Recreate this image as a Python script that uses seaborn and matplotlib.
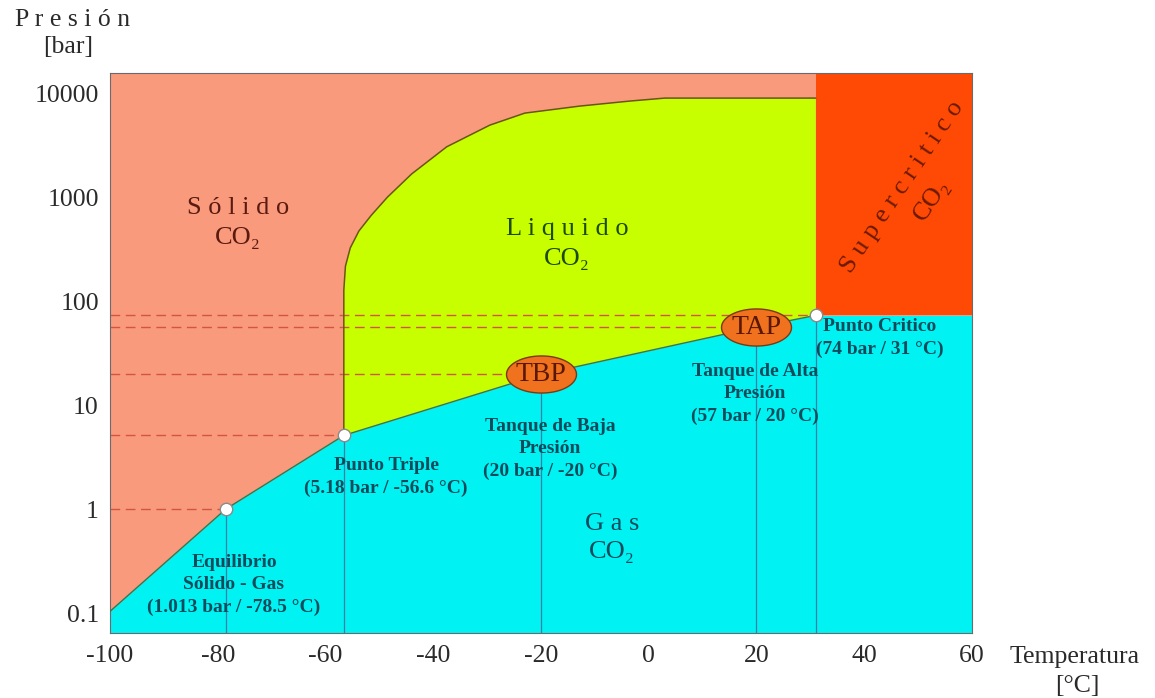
import numpy as np
import matplotlib
matplotlib.use("Agg")
import matplotlib.pyplot as plt
from matplotlib.path import Path
from matplotlib.markers import MarkerStyle
from matplotlib.ticker import FixedLocator, NullLocator, FixedFormatter
import seaborn as sns

# ---- axis ticks -------------------------------------------------------
temp_ticks = [-100, -80, -60, -40, -20, 0, 20, 40, 60]
pres_ticks = [0.1, 1, 10, 100, 1000, 10000]
pres_labels = ["0.1", "1", "10", "100", "1000", "10000"]

# ---- phase boundaries (°C, bar) --------------------------------------
# solid - gas (sublimation)
subl_t = [-100, -78.5, -56.6]
subl_p = [0.105, 1.013, 5.18]
# liquid - gas (vaporisation)
vap_t = [-56.6, -20, 20, 31]
vap_p = [5.18, 20, 57, 74]
# solid - liquid (melting)
melt_t = [-56.6, -56.6, -56.3, -55.4, -53.8, -51.5, -48.5, -44.0, -37.5,
          -29.5, -23.0, -12.8, -3.5, 3.0, 31]
melt_p = [5.18, 129, 220, 330, 480, 680, 1016, 1700, 3100,
          5010, 6540, 7640, 8540, 9120, 9120]

# ---- labelled states --------------------------------------------------
point_t = [-78.5, -56.6, 31]        # equilibrium, triple point, critical point
point_p = [1.013, 5.18, 74]
tank_names = ["TBP", "TAP"]
tank_t = [-20, 20]
tank_p = [20, 57]

t_min, t_max = -100, 60
p_min, p_max = 0.065, 15900

# ---- colours ----------------------------------------------------------
c_solid = "#FA9A7C"
c_liquid = "#C8FF00"
c_gas = "#00F2F2"
c_super = "#FF4A05"
c_note = "#0B4B5C"

sns.set_theme(style="white")
plt.rcParams["font.family"] = ["Liberation Serif", "DejaVu Serif"]

W, H = 1155, 698
fig = plt.figure(figsize=(W / 100, H / 100), dpi=100)
ax_l, ax_r, ax_t, ax_b = 110, 972, 73, 633
ax = fig.add_axes([ax_l / W, 1 - ax_b / H, (ax_r - ax_l) / W, (ax_b - ax_t) / H])
ax.set_yscale("log")
ax.set_xlim(t_min, t_max)
ax.set_ylim(p_min, p_max)
ax.set_facecolor(c_solid)

# ---- regions ----------------------------------------------------------
gas_t = subl_t + vap_t[1:] + [t_max]
gas_p = subl_p + vap_p[1:] + [vap_p[-1]]
ax.fill_between(gas_t, p_min, gas_p, color=c_gas, lw=0, zorder=1)

liq_t = vap_t + melt_t[::-1]
liq_p = vap_p + melt_p[::-1]
ax.fill(liq_t, liq_p, color=c_liquid, lw=0, zorder=1)

ax.fill_between([vap_t[-1], t_max], vap_p[-1], p_max, color=c_super, lw=0, zorder=1)

# ---- guide lines ------------------------------------------------------
guide_t = point_t + tank_t
guide_p = point_p + tank_p
ax.hlines(guide_p, t_min, guide_t, colors="#D2553F", lw=1.0,
          linestyles=(0, (7, 4)), zorder=2)
ax.vlines(guide_t, p_min, guide_p, colors="#3C7FA6", lw=0.9, zorder=2)

# ---- boundary curves --------------------------------------------------
sns.lineplot(x=melt_t, y=melt_p, sort=False, estimator=None, ax=ax,
             color="#6A5418", lw=1.1, zorder=3)
sns.lineplot(x=subl_t + vap_t[1:], y=subl_p + vap_p[1:], sort=False,
             estimator=None, ax=ax, color="#2F7A52", lw=1.0, zorder=3)

# ---- markers ----------------------------------------------------------
sns.scatterplot(x=point_t, y=point_p, ax=ax, s=80, color="white",
                edgecolor="#8A8A8A", linewidth=1.0, zorder=5)

theta = np.linspace(0, 2 * np.pi, 80)
ell = Path(np.column_stack([np.cos(theta), 0.53 * np.sin(theta)]), closed=True)
sns.scatterplot(x=tank_t, y=tank_p, ax=ax, marker=MarkerStyle(ell), s=2540,
                color="#F0711E", edgecolor="#7A3A12", linewidth=1.0, zorder=5)
for name, t, p in zip(tank_names, tank_t, tank_p):
    ax.text(t, p, name, ha="center", va="center", fontsize=20,
            color="#5A1800", zorder=6)

# ---- text -------------------------------------------------------------
def axpos(px, py):
    return (px - ax_l) / (ax_r - ax_l), (ax_b - py) / (ax_b - ax_t)

def note(px, py, s, **kw):
    x, y = axpos(px, py)
    ax.text(x, y, s, transform=ax.transAxes, ha="center", va="center",
            zorder=6, **kw)

note(238, 223, "S ó l i d o\nCO₂", fontsize=19, color="#5A1A10", linespacing=1.42)
note(567, 244, "L i q u i d o\nCO₂", fontsize=19, color="#1E4A00", linespacing=1.45)
note(612, 538, "G a s\nCO₂", fontsize=19, color="#0A4A5C", linespacing=1.4)
note(902, 187, "S u p e r c r i t i c o", fontsize=19, color="#6A1A00", rotation=56)
note(932, 200, "CO₂", fontsize=19, color="#6A1A00", rotation=56)

bold = dict(fontsize=14, fontweight="bold", color=c_note, linespacing=1.4)
note(234, 585, "Equilibrio\nSólido - Gas\n(1.013 bar / -78.5 °C)", **bold)
note(386, 477, "Punto Triple\n(5.18 bar / -56.6 °C)", **bold)
note(550, 449, "Tanque de Baja\nPresión\n(20 bar / -20 °C)", **bold)
note(755, 394, "Tanque de Alta\nPresión\n(57 bar / 20 °C)", **bold)
note(880, 338, "Punto Critico\n(74 bar / 31 °C)", **bold)

# ---- axes -------------------------------------------------------------
ax.xaxis.set_major_locator(FixedLocator(temp_ticks))
ax.set_xticklabels([str(t) for t in temp_ticks])
ax.yaxis.set_major_locator(FixedLocator(pres_ticks))
ax.yaxis.set_major_formatter(FixedFormatter(pres_labels))
ax.yaxis.set_minor_locator(NullLocator())
ax.tick_params(axis="both", length=0, labelsize=18.5, labelcolor="#2A2A2A")
ax.tick_params(axis="x", pad=9)
ax.tick_params(axis="y", pad=8)
ax.set_xlabel("")
ax.set_ylabel("")
for sp in ax.spines.values():
    sp.set_color("#6A6A6A")
    sp.set_linewidth(0.8)

fig.text(73 / W, 1 - 20 / H, "P r e s i ó n", ha="center", va="center",
         fontsize=18.5, color="#2A2A2A")
fig.text(68 / W, 1 - 47 / H, "[bar]", ha="center", va="center",
         fontsize=18.5, color="#2A2A2A")
fig.text(1075 / W, 1 - 657 / H, "Temperatura", ha="center", va="center",
         fontsize=18.5, color="#2A2A2A")
fig.text(1077 / W, 1 - 686 / H, "[°C]", ha="center", va="center",
         fontsize=18.5, color="#2A2A2A")

fig.savefig("out.png", dpi=100, facecolor="white")
